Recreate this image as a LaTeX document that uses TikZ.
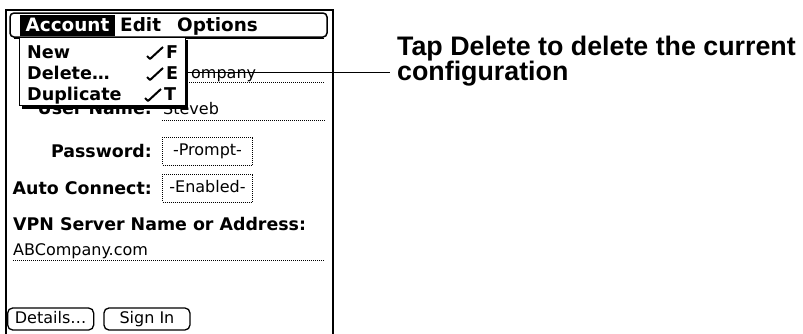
\documentclass[tikz,border=0pt]{standalone}
\usepackage{fontspec}
\setmainfont{DejaVu Sans}
\newfontfamily\notefont{Liberation Sans}
\usetikzlibrary{positioning,calc}

\begin{document}
\begin{tikzpicture}[
x=1pt,
y=-1pt,
plabel/.style={
  inner sep=0pt,
  font=\bfseries\fontsize{17.4}{19}\selectfont
  },
ptext/.style={
  inner sep=0pt,
  font=\fontsize{16}{18}\selectfont
  },
mitem/.style={
  inner sep=0pt,
  anchor=base west,
  font=\bfseries\fontsize{17.6}{19}\selectfont
  },
mtitle/.style={
  mitem,
  font=\bfseries\fontsize{18.4}{20}\selectfont
  },
field/.style={
  ptext,
  draw,
  line width=1pt,
  dash pattern=on 1pt off 1pt,
  minimum width=90pt,
  minimum height=28pt,
  text height=11pt,
  text depth=3pt
  },
pbutton/.style={
  ptext,
  draw,
  line width=1.3pt,
  rounded corners=5pt,
  minimum width=86pt,
  minimum height=22pt,
  text height=11pt,
  text depth=3pt
  },
uline/.style={
  line width=1pt,
  dash pattern=on 1pt off 1pt
  },
callout/.style={
  line width=1.2pt
  }
]
\useasboundingbox (0,0) rectangle (803,333);
% screen
\draw[line width=2.2pt] (6,340) -- (6,10) -- (333,10) -- (333,340);

% form
\node[ptext, anchor=base west] (comp) at (191,78) {ompany};
\draw[uline] (187,82) -- (325,82);
\node[plabel, anchor=base east] (user) at (152,114) {User Name:};
\node[ptext, anchor=base west] (uval) at (163,114) {Steveb};
\draw[uline] (162,120) -- (325,120);
\node[plabel, anchor=base east] (pw) at (152,157) {Password:};
\node[field, anchor=west] (pwf) at (162,151) {-Prompt-};
\node[plabel, anchor=base east] (ac) at (152,194) {Auto Connect:};
\node[field, anchor=west] (acf) at (162,188) {-Enabled-};
\node[plabel, anchor=base west] (vpn) at (13,230) {VPN Server Name or Address:};
\node[ptext, anchor=base west] (addr) at (13,255) {ABCompany.com};
\draw[uline] (13,260) -- (325,260);

\node[pbutton, anchor=west] (det) at (7,319) {Details…};
\node[pbutton, right=9pt of det] (sign) {Sign In};

% menu bar
\draw[line width=1.5pt, rounded corners=4pt, fill=white] (10,13) rectangle (327,37);
\draw[line width=1pt] (14,38.5) -- (324,38.5);
\fill (20,15) rectangle (115,36);
\node[mtitle, anchor=base, text=white] (acc) at (67.5,31) {Account};
\node[mtitle] (edit) at (120,31) {Edit};
\node[mtitle] (opt) at (177,31) {Options};

% pull-down
\fill (22,40) rectangle (188,109);
\node[draw, fill=white, line width=1.3pt, inner sep=0pt, anchor=north west,
  minimum width=166pt, minimum height=68pt] (menu) at (19,37) {};
\node[mitem] (new) at (27,58) {New};
\node[mitem] (del) at (27,79) {Delete…};
\node[mitem] (dup) at (27,100) {Duplicate};
\node[mitem] (kF) at (166,58) {F};
\node[mitem] (kE) at (166,79) {E};
\node[mitem] (kT) at (164,100) {T};
\foreach \k in {kF,kE,kT}
  \draw[line width=2pt, line join=round] (\k.base west) ++(-19,-2) -- ++(3,3) -- ++(13,-12);

% note
\node[anchor=north west, inner sep=0pt, align=left,
  font=\notefont\bfseries\fontsize{26.8}{25}\selectfont] (note) at (397,36)
  {Tap Delete to delete the current\\configuration};
\draw[callout, shorten >=7pt] (menu.east |- del) -- (note.west |- del);
\end{tikzpicture}
\end{document}
